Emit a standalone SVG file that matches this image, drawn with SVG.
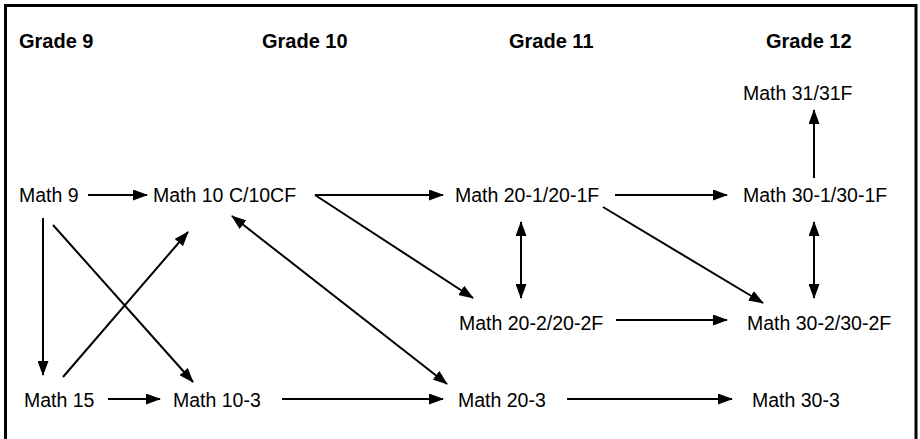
<svg xmlns="http://www.w3.org/2000/svg" width="920" height="439" viewBox="0 0 920 439">
<style>
.h{font-family:"Liberation Sans",Arial,sans-serif;font-size:20px;font-weight:bold;fill:#000}
.t{font-family:"Liberation Sans",Arial,sans-serif;font-size:19.5px;fill:#000}
.c line{stroke:#000;stroke-width:2;marker-end:url(#ah)}
.c line.b{marker-start:url(#ah)}
</style>
<defs>
<marker id="ah" viewBox="0 0 15 11" markerWidth="15" markerHeight="11" refX="14" refY="5.5" orient="auto-start-reverse" markerUnits="userSpaceOnUse">
<path d="M0,0 L15,5.5 L0,11 z" fill="#000"/>
</marker>
</defs>
<rect x="0" y="0" width="920" height="439" fill="#fff"/>
<rect x="5.5" y="5.5" width="910.5" height="445" fill="none" stroke="#000" stroke-width="3"/>
<g id="headers">
<text class="h" x="19" y="48">Grade 9</text>
<text class="h" x="262" y="48">Grade 10</text>
<text class="h" x="509" y="48">Grade 11</text>
<text class="h" x="766" y="48">Grade 12</text>
</g>
<g id="math9"><text class="t" x="19" y="202">Math 9</text></g>
<g id="math10c"><text class="t" x="153" y="202">Math 10 C/10CF</text></g>
<g id="math20-1"><text class="t" x="455" y="202">Math 20-1/20-1F</text></g>
<g id="math30-1"><text class="t" x="743" y="202">Math 30-1/30-1F</text></g>
<g id="math31"><text class="t" x="743" y="100">Math 31/31F</text></g>
<g id="math20-2"><text class="t" x="459" y="330">Math 20-2/20-2F</text></g>
<g id="math30-2"><text class="t" x="747" y="330">Math 30-2/30-2F</text></g>
<g id="math15"><text class="t" x="24" y="407">Math 15</text></g>
<g id="math10-3"><text class="t" x="173" y="407">Math 10-3</text></g>
<g id="math20-3"><text class="t" x="458" y="407">Math 20-3</text></g>
<g id="math30-3"><text class="t" x="752" y="407">Math 30-3</text></g>
<g id="connectors" class="c">
<line x1="88" y1="195" x2="147" y2="195"/>
<line x1="315" y1="195" x2="443" y2="195"/>
<line x1="315" y1="195" x2="473" y2="298"/>
<line x1="615" y1="195" x2="727" y2="195"/>
<line x1="814" y1="178" x2="814" y2="110"/>
<line x1="603" y1="207" x2="763" y2="303"/>
<line class="b" x1="521" y1="222" x2="521" y2="298"/>
<line class="b" x1="814" y1="222" x2="814" y2="298"/>
<line x1="616" y1="320" x2="727" y2="320"/>
<line x1="43" y1="218" x2="43" y2="375"/>
<line x1="53" y1="225" x2="193" y2="382"/>
<line x1="63" y1="377" x2="188" y2="232"/>
<line x1="108" y1="399" x2="160" y2="399"/>
<line x1="282" y1="399" x2="443" y2="399"/>
<line class="b" x1="232" y1="216" x2="447" y2="384"/>
<line x1="567" y1="399" x2="732" y2="399"/>
</g>
</svg>
